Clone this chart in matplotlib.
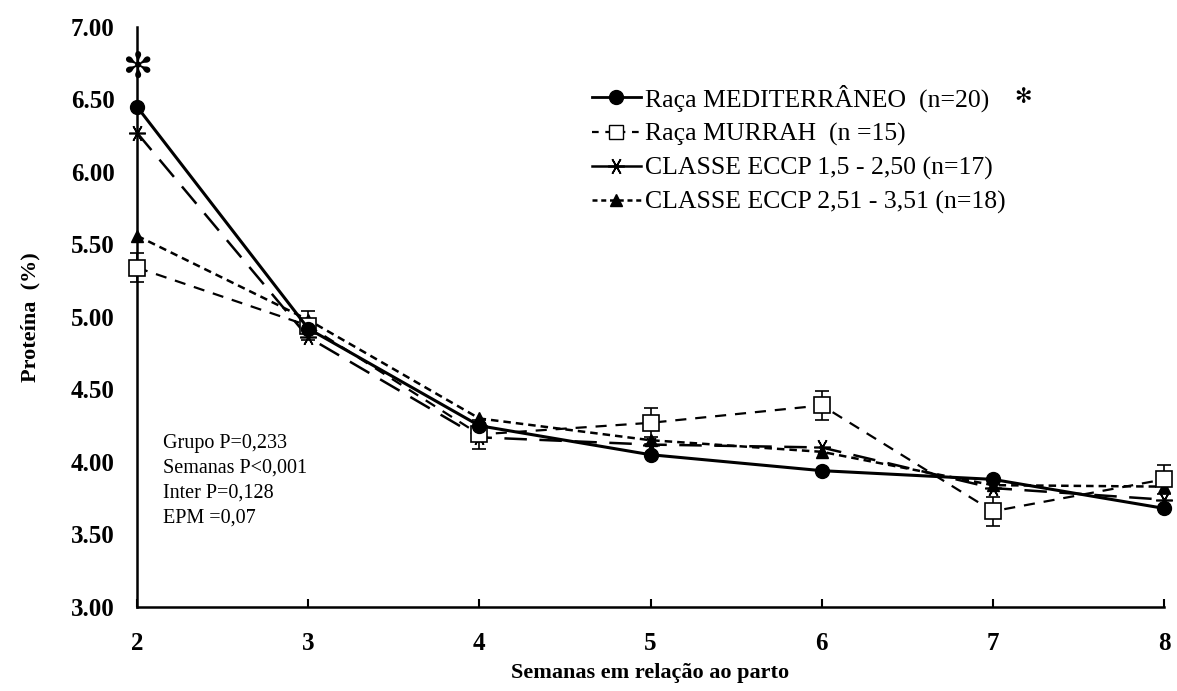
import matplotlib
matplotlib.use('Agg')
import matplotlib.pyplot as plt
from matplotlib.lines import Line2D

plt.rcParams['font.family'] = ['Liberation Serif', 'DejaVu Sans']

# Proteina do leite (%) por semana em relacao ao parto
semanas = [2, 3, 4, 5, 6, 7, 8]
mediterraneo = [6.45, 4.92, 4.25, 4.05, 3.94, 3.88, 3.68]
murrah = [5.34, 4.94, 4.19, 4.27, 4.39, 3.66, 3.88]
murrah_err = [0.1, 0.1, 0.1, 0.1, 0.1, 0.1, 0.1]
eccp_baixo = [6.27, 4.86, 4.17, 4.12, 4.10, 3.82, 3.74]
eccp_alto = [5.56, 4.98, 4.30, 4.15, 4.07, 3.84, 3.83]

nomes = ["Raça MEDITERRÂNEO  (n=20)",
         "Raça MURRAH  (n =15)",
         "CLASSE ECCP 1,5 - 2,50 (n=17)",
         "CLASSE ECCP 2,51 - 3,51 (n=18)"]
estatisticas = "Grupo P=0,233\nSemanas P<0,001\nInter P=0,128\nEPM =0,07"
yticks = [3.0, 3.5, 4.0, 4.5, 5.0, 5.5, 6.0, 6.5, 7.0]

fig = plt.figure(figsize=(11.77, 6.91), dpi=100)
ax = fig.add_axes([0.1164, 0.1216, 0.8726, 0.8394])

asterisco = (6, 2, 90)
ax.plot(semanas, mediterraneo, color='black', linestyle='-', linewidth=2.2,
        marker='o', markersize=10, clip_on=False, zorder=5)
ax.errorbar(semanas, murrah, yerr=murrah_err, color='black', linestyle=(0, (5, 4)),
            linewidth=1.6, marker='s', markersize=11, markerfacecolor='white',
            markeredgewidth=1.2, ecolor='black', elinewidth=1.2, capsize=5,
            capthick=1.2, clip_on=False, zorder=4)
ax.plot(semanas, eccp_baixo, color='black', linestyle=(0, (9, 5)), linewidth=1.8,
        marker=asterisco, markersize=12, markeredgewidth=1.2, clip_on=False, zorder=4)
ax.plot(semanas, eccp_alto, color='black', linestyle=(0, (3, 2)), linewidth=1.8,
        marker='^', markersize=9, clip_on=False, zorder=4)

ax.set_xlim(2, 8)
ax.set_ylim(3.0, 7.0)
ax.set_xticks(semanas)
ax.set_yticks(yticks)
ax.set_yticklabels(['%.2f' % v for v in yticks])
ax.tick_params(axis='x', direction='in', length=6, width=1.5, labelsize=18, pad=18)
ax.tick_params(axis='y', length=0, labelsize=18, pad=16)
for lab in ax.get_xticklabels() + ax.get_yticklabels():
    lab.set_fontweight('bold')
for s in ['top', 'right']:
    ax.spines[s].set_visible(False)
for s in ['left', 'bottom']:
    ax.spines[s].set_linewidth(1.8)

ax.set_xlabel("Semanas em relação ao parto", fontsize=16, fontweight='bold', labelpad=6)
ax.set_ylabel("Proteína  (%)", fontsize=16, fontweight='bold', labelpad=22)

# diferenca significativa na semana 2
ax.text(2, 6.72, "✻", fontsize=26, fontweight='bold', ha='center', va='center',
        family=['DejaVu Sans'], zorder=6)

ax.text(2.15, 4.19, estatisticas, fontsize=14.5, va='top', linespacing=1.4)

handles = [
    Line2D([], [], color='black', linestyle='-', linewidth=2, marker='o', markersize=10),
    Line2D([], [], color='black', linestyle=(0, (3, 3)), linewidth=1.6, marker='s',
           markersize=10, markerfacecolor='white'),
    Line2D([], [], color='black', linestyle='-', linewidth=1.8, marker=asterisco,
           markersize=12, markeredgewidth=1.2),
    Line2D([], [], color='black', linestyle=(0, (2, 1.5)), linewidth=1.8, marker='^',
           markersize=9),
]
leg = fig.legend(handles, nomes, loc='upper left', bbox_to_anchor=(592 / 1177, 0.878),
                 frameon=False, fontsize=18.5, handlelength=1.9, handletextpad=0.15,
                 labelspacing=0.42, borderpad=0, borderaxespad=0)
fig.text(0.869, 0.859, "✻", fontsize=15, fontweight='bold', ha='center', va='center',
         family=['DejaVu Sans'])

fig.savefig('out.png', dpi=100)
